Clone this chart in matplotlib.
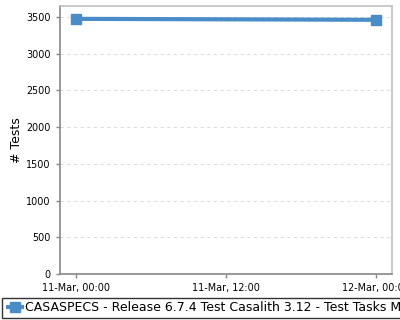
import matplotlib
matplotlib.use('Agg')
import matplotlib.pyplot as plt
import matplotlib.dates as mdates
import pandas as pd

# --- data ---
times = pd.to_datetime(['2024-03-11 00:00', '2024-03-12 00:00'])
tests = [3475, 3462]
series_label = 'CASASPECS - Release 6.7.4 Test Casalith 3.12 - Test Tasks Mac OS 12'
y_ticks = [0, 500, 1000, 1500, 2000, 2500, 3000, 3500]

line_color = '#4a8cc8'

fig = plt.figure(figsize=(4, 3.2), dpi=100)
ax = fig.add_axes([59.5 / 400, 46 / 320, 332.5 / 400, 268 / 320])

ax.plot(times, tests, color=line_color, linewidth=3, marker='s',
        markersize=6.5, label=series_label, solid_capstyle='butt')

pad = pd.Timedelta(hours=1.28)
ax.set_xlim(times[0] - pad, times[-1] + pad)
ax.set_ylim(0, 3650)
ax.set_yticks(y_ticks)
ax.xaxis.set_major_locator(mdates.HourLocator(byhour=[0, 12]))
ax.xaxis.set_major_formatter(mdates.DateFormatter('%d-%b, %H:%M'))

ax.grid(axis='y', color='#dddddd', linestyle=(0, (3, 3)), linewidth=0.8)
ax.set_axisbelow(True)

ax.spines['left'].set_color('#888888')
ax.spines['bottom'].set_color('#888888')
ax.spines['top'].set_color('#c0c0c0')
ax.spines['right'].set_color('#c0c0c0')
for s in ax.spines.values():
    s.set_linewidth(1.2)

ax.tick_params(axis='both', labelsize=6.9, colors='#888888', labelcolor='black',
               length=3, width=1)
ax.set_ylabel('# Tests', fontsize=9, labelpad=2)

# legend box runs across the whole bottom, text cut by the figure edge
leg = fig.legend(loc='lower left', bbox_to_anchor=(2 / 400, 2 / 320),
                 fontsize=9, frameon=True, fancybox=False, handlelength=1.45,
                 handletextpad=0.1, borderpad=0.3, borderaxespad=0)
leg.get_frame().set_edgecolor('black')
leg.get_frame().set_linewidth(1)

fig.savefig('out.png', dpi=100)
